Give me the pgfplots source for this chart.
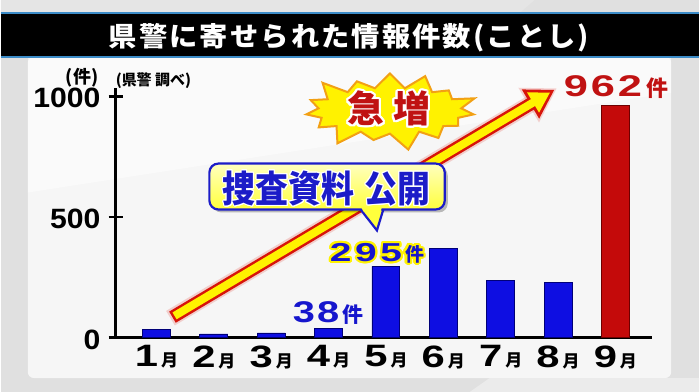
\documentclass[border=0pt]{standalone}
\usepackage{fontspec}
\setmainfont{Liberation Sans}
\newfontfamily\cjk{Noto Sans CJK JP}
\usepackage{graphicx}
\usepackage{pgfplots}
\pgfplotsset{compat=1.18}
\usetikzlibrary{arrows.meta,shapes.symbols}
\definecolor{barblue}{RGB}{14,14,226}
\definecolor{barblueedge}{RGB}{0,0,120}
\definecolor{barred}{RGB}{196,10,10}
\definecolor{barrededge}{RGB}{110,0,0}
\definecolor{txtblue}{RGB}{22,22,205}
\definecolor{txtred}{RGB}{192,18,18}
\definecolor{titleline}{RGB}{60,140,200}
\definecolor{bg}{RGB}{224,224,224}
\definecolor{panel}{RGB}{246,246,246}
\definecolor{burstline}{RGB}{242,160,20}
\definecolor{arrowred}{RGB}{215,20,10}
\definecolor{callblue}{RGB}{28,28,200}
\definecolor{callyellow}{RGB}{255,255,60}
\newcommand\fs[1]{\fontsize{#1bp}{#1bp}\selectfont}
\newcommand\dig[2]{\scalebox{#1}[1]{#2}}
\newcommand\xl[1]{\scalebox{1.35}[1]{\fs{31}\bfseries #1}\kern3bp{\cjk\bfseries\fs{17}月}}
\def\spc#1{\ifx\relax#1\else#1\kern2bp\expandafter\spc\fi}
\newcommand\outl[5]{%
  \foreach \ang in {0,22.5,...,337.5}{\node[anchor=base,inner sep=0pt,text=#2,shift={(\ang:#3)}] at (#1) {#5};}
  \node[anchor=base,inner sep=0pt,text=#4] at (#1) {#5};}
\begin{document}
\begin{tikzpicture}[x=1bp,y=1bp]
% background
\fill[bg] (0,0) rectangle (700,393);
\fill[white!90!black] (0,380) -- (520,380) -- (535,393) -- (0,393) -- cycle;
\fill[panel, rounded corners=6bp] (27,14) rectangle (672,336);
\fill[white, opacity=0.5] (27,200) -- (672,300) -- (672,336) -- (27,336) -- cycle;
\fill[white!92!black] (470,0) -- (700,0) -- (700,14) -- (490,14) -- cycle;
% title bar
\fill[black] (0,336) rectangle (700,380);
\draw[titleline, line width=1.8bp] (0,380) -- (700,380);
\draw[titleline, line width=1.8bp] (0,336) -- (700,336);
\node[anchor=base, inner sep=0pt, text=white] at (350,346.7)
  {\scalebox{1.05}[1]{\cjk\bfseries\fs{27}\spc 県警に寄せられた情報件数(ことし)\relax}};
% axis
\begin{axis}[
  at={(115bp,54.6bp)}, anchor=south west,
  scale only axis, width=538bp, height=250bp,
  xmin=0.287, xmax=9.643, ymin=0, ymax=1034,
  axis lines=left, axis line style={-, line width=2.6bp, black},
  ytick={0,500,1000},
  yticklabels={\dig{1.08}{0},\dig{1.08}{500},\dig{1.08}{1000}},
  xtick={1,2,3,4,5,6,7,8,9},
  xticklabels={\xl{1},\xl{2},\xl{3},\xl{4},\xl{5},\xl{6},\xl{7},\xl{8},\xl{9}},
  major tick length=14bp, tick align=center,
  y tick style={line width=2.4bp, black},
  x tick style={draw=none},
  yticklabel style={font=\fs{28}\bfseries, anchor=east, inner sep=0pt, xshift=-8bp, yshift=-2bp},
  xticklabel style={anchor=north, inner sep=0pt, yshift=6bp},
  clip=false,
  ybar, bar width=28bp,
]
\addplot[fill=barblue, draw=barblueedge, line width=0.8bp, bar shift=0pt]
  coordinates {(1,34) (2,15) (3,19) (4,38) (5,295) (6,368) (7,237) (8,227)};
\addplot[fill=barred, draw=barrededge, line width=0.8bp, bar shift=0pt]
  coordinates {(9,962)};
\end{axis}
% axis unit labels
\node[anchor=base west, inner sep=0pt] at (65,309) {\cjk\bfseries\fs{18}(件)};
\node[anchor=base west, inner sep=0pt] at (115,307) {\cjk\bfseries\fs{15}(県警 調べ)};
% starburst
\node[starburst, starburst points=15, starburst point height=20bp, fill=yellow,
  draw=burstline, line width=2bp, minimum width=184bp, minimum height=86bp, inner sep=0pt] at (390,282) {};
\outl{389,270}{white}{2.2bp}{txtred}{\cjk\bfseries\fs{37}急\kern9bp 増}
% arrow
\draw[arrowred!60, opacity=0.3, line width=17bp, -{Triangle[length=33bp,width=38bp]}] (170,74) -- (557.5,304.5);
\draw[arrowred, line width=13bp, -{Triangle[length=28bp,width=32bp]}] (172,75) -- (555,303);
\draw[yellow, line width=8bp, -{Triangle[length=20bp,width=22bp]}] (174.1,76.3) -- (550.7,300.4);
% callout
\fill[black, opacity=0.25, rounded corners=9bp] (212,180) rectangle (448,226);
\draw[callblue, line width=2.2bp, fill=callyellow] (359,185) -- (377,162) -- (384,185);
\draw[callblue, line width=2.2bp, top color=yellow!25, bottom color=callyellow, rounded corners=9bp] (209,183) rectangle (445,229);
\fill[callyellow] (361,185.5) -- (363.5,181) -- (380.8,181) -- (382,185.5) -- cycle;
\outl{326.5,190}{white}{1bp}{callblue}{\scalebox{1}[1.12]{\cjk\bfseries\fs{33}捜査資料\kern10bp 公開}}
% value labels
\node[anchor=base, inner sep=0pt, text=txtblue] at (328,69.7)
  {\scalebox{1.33}[1]{\fs{30}\bfseries 3\kern1.5bp 8}\kern3bp{\cjk\bfseries\fs{21}件}};
\outl{377,131}{yellow}{2.2bp}{txtblue}{\scalebox{1.5}[1]{\fs{26}\bfseries 2\kern2.5bp 9\kern2.5bp 5}\kern3bp{\cjk\bfseries\fs{19}件}}
\node[anchor=base, inner sep=0pt, text=txtred] at (617,296)
  {\scalebox{1.45}[1]{\fs{30}\bfseries 9\kern2bp 6\kern2bp 2}\kern5bp{\cjk\bfseries\fs{22}件}};
\end{tikzpicture}
\end{document}
